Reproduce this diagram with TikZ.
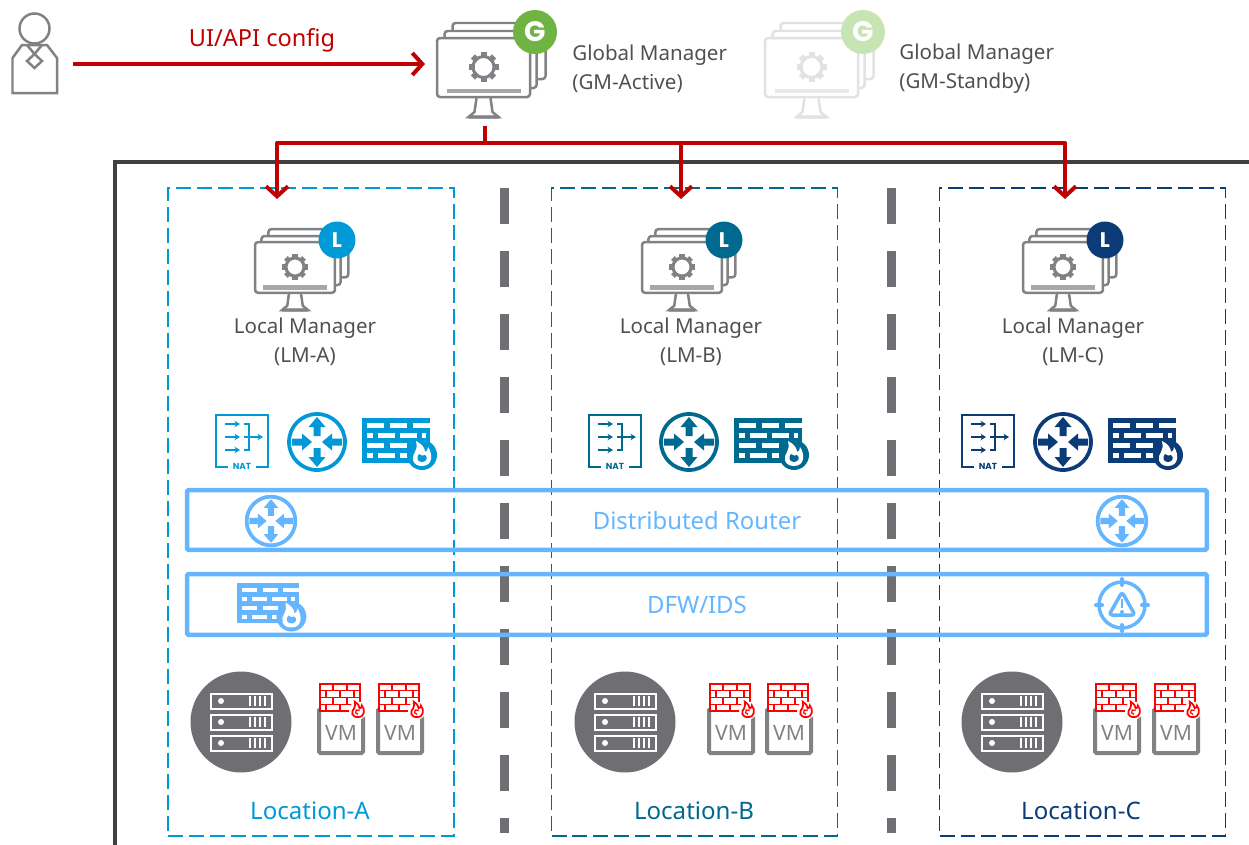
\documentclass[tikz,border=0pt]{standalone}
\usepackage{fontspec}
\setmainfont{Noto Sans}
\newfontfamily\badgefont{Poppins}
\usetikzlibrary{arrows.meta}
\definecolor{locA}{HTML}{0099D8}
\definecolor{locB}{HTML}{00698F}
\definecolor{locC}{HTML}{0B3C78}
\definecolor{barblue}{HTML}{66B5FF}
\definecolor{cfgred}{HTML}{C00000}
\definecolor{icongray}{HTML}{808285}
\definecolor{darkgray}{HTML}{6F6F73}
\definecolor{framegray}{HTML}{404040}
\definecolor{textgray}{HTML}{505050}
\definecolor{fwred}{HTML}{FF0000}
\definecolor{standby}{HTML}{E2E2E2}
\definecolor{gmgreen}{HTML}{6FB343}
\definecolor{gmfaded}{HTML}{C8E4B2}
\tikzset{
	redline/.style={cfgred,line width=.08cm,line join=round},
	redarrow/.style={redline,-{Straight Barb[length=.2cm,width=.44cm,line width=.08cm]}},
	lbl/.style={text=textgray,font=\fontsize{11.7}{16.4}\selectfont,align=center,inner sep=0pt},
	loclbl/.style={font=\fontsize{13.7}{15}\selectfont,inner sep=0pt},
	barlbl/.style={text=barblue,font=\fontsize{13.6}{15}\selectfont,inner sep=0pt},
	badge/.style={circle,text=white,inner sep=0pt},
	bar/.style={draw=barblue,line width=.09cm,rounded corners=.03cm,outer sep=0pt,inner sep=0pt,anchor=north west},
	locbox/.style={line width=.035cm,dash pattern=on .3cm off .12cm,outer sep=0pt,inner sep=0pt,anchor=north west},
	sep/.style={darkgray,line width=.18cm,dash pattern=on .72cm off .54cm},
	pics/flame/.style={code={
		\fill (0,0) circle (15);
		\fill[white] (0,11) .. controls (-10,11) and (-11,2) .. (-7,-3) .. controls (-5,-6) and (-5,-9) .. (-6,-14)
			.. controls (0,-11) and (3,-7) .. (3,-3) .. controls (5,-4) and (6,-5) .. (6,-8)
			.. controls (11,-1) and (11,11) .. (0,11) -- cycle;
		\fill (0,7) .. controls (-5,7) and (-6,2) .. (-3,-1) .. controls (-1,1) and (1,1) .. (3,0)
			.. controls (6,2) and (5,7) .. (0,7) -- cycle;
	}},
	pics/wall/.style={code={
		\fill (-34,-22.5) rectangle (34,22.5);
		\foreach \y in {-17,3}
			\foreach \x in {-29,-6,17}
				\fill[white] (\x,\y) rectangle +(17,5);
		\foreach \y in {-7,13}
		{
			\fill[white] (-29,\y) rectangle +(6,5);
			\fill[white] (-18,\y) rectangle +(17,5);
			\fill[white] (4,\y) rectangle +(17,5);
			\fill[white] (26,\y) rectangle +(4,5);
		}
		\pic at (26,15) {flame};
	}},
	pics/redwall/.style={code={
		\fill[white] (-20,-13.5) rectangle (20,13.5);
		\draw[line width=.03cm] (-20,-13.5) rectangle (20,13.5);
		\foreach \y in {-7,0,7}
			\draw[line width=.03cm] (-20,\y) -- (20,\y);
		\foreach \x in {-7,7}
		{
			\draw[line width=.03cm] (\x,-13.5) -- (\x,-7);
			\draw[line width=.03cm] (\x,0) -- (\x,7);
		}
		\foreach \x in {-14,0,14}
		{
			\draw[line width=.03cm] (\x,-7) -- (\x,0);
			\draw[line width=.03cm] (\x,7) -- (\x,13.5);
		}
		\fill[white] (18,13) circle (9);
		\begin{scope}[shift={(18,13)},scale=.55]
			\draw[line width=.035cm,fill=white] (0,12) .. controls (-12,12) and (-13,2) .. (-7,-4) .. controls (-5,-7) and (-5,-11) .. (-6,-16)
				.. controls (0,-12) and (3,-8) .. (3,-4) .. controls (6,-5) and (7,-6) .. (7,-9)
				.. controls (13,-2) and (13,12) .. (0,12) -- cycle;
			\draw[line width=.025cm] (0,7) .. controls (-5,7) and (-6,2) .. (-3,-1) .. controls (-1,1) and (1,1) .. (3,0);
		\end{scope}
	}},
	pics/router/.style={code={
		\draw[line width=.075cm] (0,0) circle (28);
		\foreach \a in {0,180}
			\fill[rotate=\a] (-3.5,-6) -- (-3.5,-15) -- (-8.5,-15) -- (0,-25) -- (8.5,-15) -- (3.5,-15) -- (3.5,-6) -- cycle;
		\foreach \a in {90,270}
			\fill[rotate=\a] (-3.5,-25) -- (-3.5,-15) -- (-8.5,-15) -- (0,-5) -- (8.5,-15) -- (3.5,-15) -- (3.5,-25) -- cycle;
	}},
	pics/nat/.style={code={
		\draw[line width=.05cm] (-14,26) -- (-26,26) -- (-26,-26) -- (26,-26) -- (26,26) -- (14,26);
		\foreach \y in {-17,-4,9}
			\draw[line width=.04cm,-{Stealth[length=.11cm,width=.13cm]}] (-17,\y) -- (-2,\y);
		\draw[line width=.04cm] (2,-17) -- (7,-17) -- (7,9) -- (2,9);
		\draw[line width=.04cm] (2,-4) -- (7,-4);
		\draw[line width=.04cm,-{Stealth[length=.11cm,width=.13cm]}] (7,-4) -- (21,-4);
		\node[inner sep=0pt,font=\badgefont\bfseries\fontsize{5}{5}\selectfont] (-natlbl) at (0,25) {NAT};
	}},
	pics/monitor/.style={code={
		\draw[line width=.05cm,rounded corners=.06cm,fill=white] (-31,-44) rectangle (62,12);
		\draw[line width=.05cm,rounded corners=.06cm,fill=white] (-39,-36) rectangle (53,21);
		\draw[line width=.05cm,rounded corners=.06cm,fill=white] (-46.5,-29) rectangle (46.5,30);
		\draw[line width=.09cm,opacity=.7] (-37,24) -- (37,24);
		\draw[line width=.05cm] (-7,31) -- (-9,45) -- (-15,50) -- (15,50) -- (9,45) -- (7,31);
		\draw[line width=.09cm,opacity=.7] (-15,50) -- (15,50);
		\foreach \a in {0,45,...,315}
			\fill[rotate=\a] (-3,-15) rectangle (3,-9);
		\draw[line width=.06cm] (0,0) circle (10.5);
	}},
	pics/alert/.style={code={
		\draw[line width=.07cm] (0,0) circle (23);
		\foreach \a in {0,90,180,270}
			\draw[line width=.08cm,rotate=\a,line cap=round] (0,-26) -- (0,-20);
		\draw[line width=.07cm,line join=round,rounded corners=.06cm] (0,-13) -- (13,10) -- (-13,10) -- cycle;
		\draw[line width=.05cm] (0,-6) -- (0,3);
		\fill (0,7) circle (2);
	}},
	pics/server/.style={code={
		\fill[darkgray] (0,0) circle (50.5);
		\foreach \y in {-21,0,21}
		{
			\draw[white,line width=.04cm] (-30.5,\y-7.5) rectangle (30.5,\y+7.5);
			\fill[white] (-20,\y) circle (3);
			\foreach \x in {9,14,19,24}
				\fill[white] (\x-1,\y-5) rectangle (\x+1.2,\y+5);
		}
	}},
	pics/vmbox/.style={code={
		\draw[icongray,line width=.08cm,rounded corners=.03cm,fill=white] (-22,-22) rectangle (22,22);
		\node[text=icongray,inner sep=0pt,font=\fontsize{12}{13}\selectfont] (-vm) at (0,2) {VM};
		\pic[color=fwred] at (-1,-33.5) {redwall};
	}},
}
\begin{document}
\begin{tikzpicture}[x=.02cm,y=-.02cm,line cap=butt]
	\useasboundingbox (0,0) rectangle (1249,845);
	% frame
	\coordinate (framebl) at (115,845);
	\coordinate (frametl) at (115,162);
	\coordinate (frametr) at (1249,162);
	\draw[framegray,line width=.08cm] (framebl) -- (frametl) -- (frametr);
	% separators
	\foreach \x in {504,891}
		\draw[sep] (\x,188) -- (\x,833);
	% locations
	\foreach \n/\col/\bx/\lm/\lb/\nt/\rt/\fw/\sv/\vma/\vmb/\ll in {
		A/locA/168/295/305/242/317/396/241/341/400/310,
		B/locB/551.5/682/691/615/689/768/625/731/789/694,
		C/locC/939.5/1063/1073/988/1063/1142/1012/1117/1176/1081}
	{
		\node[draw=\col,locbox,minimum width=5.72cm,minimum height=12.96cm] (box\n) at (\bx,188) {};
		\pic[color=icongray,scale=.86] (lm\n) at (\lm,267) {monitor};
		\node[badge,fill=\col,minimum size=.74cm,font=\badgefont\bfseries\fontsize{12}{12}\selectfont] (lmb\n) at (\lm+42,240) {L};
		\node[lbl] (lmt\n) at (\lb,341.5) {Local Manager\\(LM-\n)};
		\pic[color=\col] (nat\n) at (\nt,441) {nat};
		\pic[color=\col] (rt\n) at (\rt,442) {router};
		\pic[color=\col] (fw\n) at (\fw,440) {wall};
		\pic (srv\n) at (\sv,722) {server};
		\pic (vma\n) at (\vma,731) {vmbox};
		\pic (vmb\n) at (\vmb,731) {vmbox};
		\node[loclbl,text=\col] (ll\n) at (\ll,811) {Location-\n};
	}
	% bars
	\node[bar,minimum width=20.4cm,minimum height=1.2cm] (barrt) at (187,490) {};
	\node[bar,minimum width=20.4cm,minimum height=1.22cm] (barfw) at (187,574) {};
	\node[barlbl] (rtlbl) at (697,521) {Distributed Router};
	\node[barlbl] (fwlbl) at (697,605) {DFW/IDS};
	\pic[color=barblue,scale=.87] (dra) at (271,521) {router};
	\pic[color=barblue,scale=.87] (drc) at (1122,521) {router};
	\pic[color=barblue,scale=.9] (dfwa) at (268,603) {wall};
	\pic[color=barblue] (ids) at (1122,605) {alert};
	% managers
	\pic[color=icongray] (gma) at (483.5,67) {monitor};
	\node[badge,fill=gmgreen,minimum size=.88cm,font=\badgefont\bfseries\fontsize{16}{16}\selectfont] (gmab) at (535,32) {G};
	\node[lbl,align=left,anchor=west] (gmat) at (572,68.5) {Global Manager\\(GM-Active)};
	\pic[color=standby] (gms) at (811.5,67) {monitor};
	\node[badge,fill=gmfaded,minimum size=.88cm,font=\badgefont\bfseries\fontsize{16}{16}\selectfont] (gmsb) at (863,32) {G};
	\node[lbl,align=left,anchor=west] (gmst) at (899,68.5) {Global Manager\\(GM-Standby)};
	% user
	\draw[icongray,line width=.05cm] (34.5,28.5) circle (15);
	\draw[icongray,line width=.05cm] (12.5,93) -- (12.5,58) -- (22,45) -- (28,45) -- (41,45) -- (47,45) -- (57,58) -- (57,93) -- cycle;
	\draw[icongray,line width=.05cm] (34.5,54) -- (27,61) -- (34.5,68) -- (42,61) -- cycle;
	\draw[icongray,line width=.05cm] (27,45) -- (34.5,54) -- (42,45);
	% config
	\coordinate (usrout) at (73,64);
	\coordinate (gmin) at (425,64);
	\draw[redarrow] (usrout) -- (gmin);
	\node[text=cfgred,font=\fontsize{13.4}{15}\selectfont,inner sep=0pt] (cfglbl) at (262,40) {UI/API config};
	\coordinate (gmfoot) at (485,126);
	\coordinate (bus) at (485,143);
	\coordinate (tipA) at (277,199);
	\coordinate (tipB) at (681,199);
	\coordinate (tipC) at (1065,199);
	\draw[redline] (gmfoot) -- (bus);
	\draw[redarrow] (bus) -| (tipA);
	\draw[redarrow] (bus) -| (tipB);
	\draw[redarrow] (bus) -| (tipC);
\end{tikzpicture}
\end{document}
